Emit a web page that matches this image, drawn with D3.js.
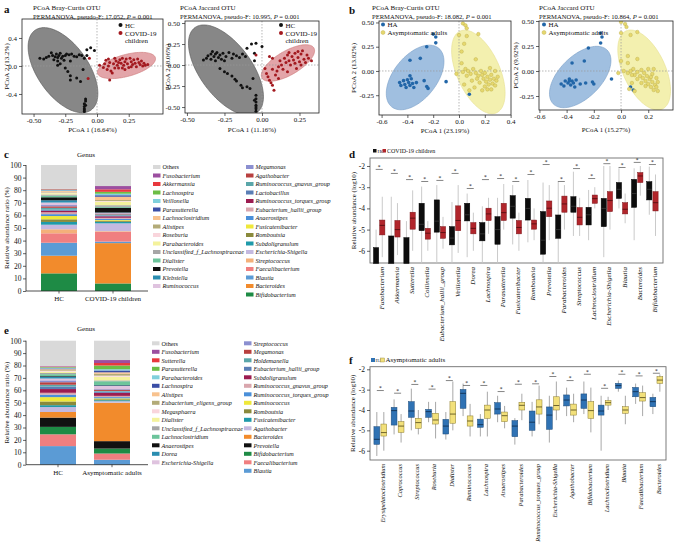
<!DOCTYPE html>
<html><head><meta charset="utf-8">
<script src="https://cdn.jsdelivr.net/npm/d3@7"></script>
<style>
body{margin:0;background:#fff;}
svg{display:block;font-family:"Liberation Serif","Times New Roman",serif;}
</style></head><body>
<svg id="chart" width="676" height="546"></svg>
<script>
// ---------------- DATA ----------------
// Panel a: PCoA coordinates (PCoA1, PCoA2)
const aBrayHC = [[-0.45,0.11],[-0.42,0.1],[-0.40,0.12],[-0.38,0.14],[-0.36,0.19],[-0.35,0.15],[-0.34,0.09],[-0.33,0.13],[-0.32,0.17],[-0.31,0.07],[-0.31,0.12],[-0.30,0.15],[-0.29,0.18],[-0.28,0.11],[-0.27,0.14],[-0.26,0.08],[-0.25,0.15],[-0.24,0.17],[-0.22,0.16],[-0.21,0.07],[-0.20,0.17],[-0.18,0.14],[-0.16,0.13],[-0.14,0.16],[-0.12,0.15],[-0.10,0.11],[-0.08,0.15],[-0.08,0.23],[-0.05,0.26],[-0.02,0.22],[-0.31,0.01],[-0.29,0.03],[-0.25,-0.03],[-0.23,-0.08],[-0.21,-0.14],[-0.21,-0.2],[-0.16,-0.17],[-0.13,-0.22],[-0.11,-0.05],[-0.09,-0.47],[-0.09,-0.5],[-0.1,-0.54],[-0.1,-0.58],[-0.1,-0.61],[-0.1,-0.63],[-0.09,-0.56],[-0.1,-0.65]];
const aBrayCOV = [[0.02,0.01],[0.05,-0.02],[0.06,0.03],[0.07,0.08],[0.08,-0.05],[0.09,0.0],[0.1,0.05],[0.11,-0.07],[0.12,-0.1],[0.13,0.03],[0.14,-0.03],[0.15,0.07],[0.16,0.01],[0.17,-0.03],[0.18,0.09],[0.19,0.04],[0.2,-0.03],[0.21,0.01],[0.22,0.06],[0.23,0.1],[0.24,0.03],[0.25,-0.02],[0.26,0.11],[0.27,0.06],[0.28,0.02],[0.29,0.09],[0.3,0.04],[0.31,-0.01],[0.32,0.1],[0.33,0.05],[0.34,0.02],[0.35,0.07],[0.36,0.0],[0.37,0.04],[0.38,0.01],[0.4,0.02],[0.2,0.11],[0.14,0.11],[0.09,0.1],[0.22,-0.05],[0.27,-0.01],[0.17,0.05],[-0.06,0.11],[-0.07,-0.18],[0.1,-0.2]];
const aJacHC = [[-0.39,0.06],[-0.37,0.08],[-0.36,0.11],[-0.34,0.13],[-0.34,0.07],[-0.33,0.16],[-0.32,0.1],[-0.31,0.13],[-0.31,0.05],[-0.3,0.15],[-0.29,0.09],[-0.28,0.12],[-0.27,0.07],[-0.26,0.14],[-0.25,0.05],[-0.24,0.1],[-0.22,0.15],[-0.2,0.08],[-0.19,0.13],[-0.17,0.11],[-0.15,0.09],[-0.13,0.13],[-0.11,0.1],[-0.1,0.2],[-0.07,0.25],[-0.04,0.26],[0.0,0.22],[-0.05,0.14],[-0.05,0.05],[-0.28,-0.04],[-0.25,-0.08],[-0.23,-0.1],[-0.2,-0.13],[-0.18,-0.17],[-0.17,-0.19],[-0.14,-0.24],[-0.13,-0.27],[-0.1,-0.26],[-0.08,-0.28],[-0.06,-0.16],[-0.04,-0.36],[-0.04,-0.4],[-0.04,-0.44],[-0.04,-0.48],[-0.04,-0.5],[-0.04,-0.52],[-0.04,-0.55],[-0.05,-0.42]];
const aJacCOV = [[0.02,-0.04],[0.03,-0.1],[0.04,-0.14],[0.05,-0.18],[0.06,-0.21],[0.07,-0.24],[0.08,-0.3],[0.09,-0.12],[0.1,-0.07],[0.11,-0.02],[0.11,-0.16],[0.12,0.05],[0.13,0.0],[0.14,-0.05],[0.15,0.08],[0.16,0.03],[0.17,-0.08],[0.17,0.12],[0.18,0.05],[0.19,0.0],[0.2,0.1],[0.21,0.06],[0.22,0.14],[0.22,0.02],[0.23,-0.04],[0.24,0.09],[0.25,0.04],[0.26,0.13],[0.26,0.0],[0.27,0.17],[0.28,0.07],[0.29,0.03],[0.3,0.12],[0.31,0.08],[0.33,0.05],[0.24,0.16],[0.18,0.15],[0.07,-0.05],[0.05,0.1],[-0.04,0.12],[0.07,0.08]];
// Panel b
const bBrayHA = [[-0.2,0.38],[-0.18,0.35],[-0.18,0.29],[-0.25,0.25],[-0.38,0.11],[-0.3,0.13],[-0.1,-0.11],[0.08,-0.24],[-0.46,-0.12],[-0.45,-0.15],[-0.43,-0.1],[-0.42,-0.14],[-0.41,-0.17],[-0.4,-0.09],[-0.39,-0.12],[-0.38,-0.05],[-0.38,-0.15],[-0.37,-0.08],[-0.36,-0.13],[-0.35,-0.17],[-0.33,-0.12],[-0.27,-0.1],[-0.24,-0.18],[-0.25,-0.16]];
const bBrayAS = [[0.03,0.49],[0.05,0.47],[0.06,0.44],[0.0,0.37],[0.06,0.36],[0.15,0.38],[0.04,0.28],[0.02,0.2],[0.13,0.12],[0.02,0.08],[0.05,0.02],[-0.02,-0.03],[0.03,-0.01],[0.07,0.0],[0.09,-0.03],[0.11,0.02],[0.13,-0.02],[0.15,-0.05],[0.17,0.0],[0.18,-0.04],[0.19,-0.08],[0.2,-0.02],[0.21,-0.11],[0.22,-0.06],[0.23,-0.14],[0.24,-0.09],[0.25,-0.04],[0.26,-0.13],[0.27,-0.08],[0.28,-0.15],[0.29,-0.1],[0.3,-0.06],[0.22,-0.19],[0.2,-0.16],[0.16,-0.12],[0.14,-0.08],[0.1,-0.1],[0.06,-0.05],[0.04,-0.14],[0.08,-0.2],[0.12,-0.17],[0.18,-0.2],[0.25,-0.19],[0.24,0.03],[0.28,0.0]];
const bJacHA = [[-0.15,0.38],[-0.14,0.34],[-0.15,0.28],[-0.24,0.23],[-0.27,0.1],[-0.36,0.08],[-0.07,-0.08],[0.09,-0.19],[0.07,-0.16],[-0.44,-0.13],[-0.42,-0.15],[-0.41,-0.1],[-0.39,-0.12],[-0.38,-0.08],[-0.37,-0.14],[-0.36,-0.1],[-0.35,-0.12],[-0.34,-0.16],[-0.33,-0.09],[-0.3,-0.13],[-0.26,-0.12],[-0.2,-0.13],[-0.21,-0.11],[-0.38,-0.1]];
const bJacAS = [[0.0,0.49],[0.03,0.47],[0.04,0.44],[0.0,0.38],[0.07,0.36],[0.12,0.39],[0.0,0.1],[0.05,0.08],[0.12,0.12],[-0.02,-0.02],[0.02,0.0],[0.05,-0.02],[0.07,0.0],[0.09,0.02],[0.1,-0.04],[0.12,-0.01],[0.14,-0.05],[0.15,0.01],[0.16,-0.07],[0.17,-0.02],[0.18,-0.1],[0.19,-0.05],[0.2,0.02],[0.2,-0.13],[0.21,-0.08],[0.22,-0.16],[0.23,-0.11],[0.23,-0.03],[0.24,-0.19],[0.25,-0.14],[0.26,-0.07],[0.26,-0.16],[0.27,-0.11],[0.22,-0.06],[0.18,-0.15],[0.15,-0.12],[0.12,-0.08],[0.08,-0.12],[0.06,-0.18],[0.1,-0.2],[0.08,-0.04],[0.05,0.15],[0.24,0.02],[0.27,-0.2]];

// Panel c: genus composition (%), legend order
const cGenera = ["Others","Fusobacterium","Akkermansia","Lachnospira","Veillonella","Parasutterella","Lachnoclostridium","Alistipes","Roseburia","Parabacteroides","Unclassified_f_Lachnospiraceae","Dialister","Prevotella","Klebsiella","Ruminococcus",
 "Megamonas","Agathobacter","Ruminococcus_gnavus_group","Lactobacillus","Ruminococcus_torques_group","Eubacterium_hallii_group","Anaerostipes","Fusicatenibacter","Romboutsia","Subdoligranulum","Escherichia-Shigella","Streptococcus","Faecalibacterium","Blautia","Bacteroides","Bifidobacterium"];
const cGroups = ["HC","COVID-19 children"];
const cHC =  [18.9,0.3,0.3,0.3,0.4,0.4,0.6,0.6,0.6,1.0,1.0,1.2,2.4,1.8,2.0, 1.0,1.2,1.5,0.8,1.2,1.5,1.5,2.6,2.1,2.2,3.6,3.2,7.5,10.3,14.0,14.0];
const cCOV = [16.7,2.6,2.0,1.5,1.2,1.2,2.6,0.8,0.5,2.8,1.3,0.7,3.8,0.3,0.3, 0.3,0.6,0.8,0.7,1.2,0.8,1.0,0.6,0.8,1.2,6.2,0.5,7.8,1.2,32.0,6.0];
// Panel e
const eGenera = ["Others","Fusobacterium","Sutterella","Parasutterella","Parabacteroides","Lachnospira","Alistipes","Eubacterium_eligens_group","Megasphaera","Dialister","Unclassified_f_Lachnospiraceae","Lachnoclostridium","Anaerostipes","Dorea","Escherichia-Shigella",
 "Streptococcus","Megamonas","Holdemanella","Eubacterium_hallii_group","Subdoligranulum","Ruminococcus_gnavus_group","Ruminococcus_torques_group","Ruminococcus","Romboutsia","Fusicatenibacter","Agathobacter","Bacteroides","Prevotella","Bifidobacterium","Faecalibacterium","Blautia"];
const eGroups = ["HC","Asymptomatic adults"];
const eHC = [20.5,0.4,0.4,0.5,0.6,0.6,0.8,0.6,0.6,1.0,1.0,1.5,0.5,1.5,1.5, 1.5,2.0,1.5,2.0,3.0,1.5,2.0,3.5,3.0,1.5,4.0,4.5,7.5,6.0,9.5,15.0];
const eAS = [15.6,2.4,2.0,3.0,1.0,1.5,1.2,1.5,0.8,3.0,0.7,3.0,0.3,0.5,2.5, 0.5,1.0,0.5,1.0,2.5,1.0,1.0,0.7,0.8,0.8,1.2,31.0,6.0,4.0,5.0,4.0];

// Panel d: boxplots [min, q1, median, q3, max] of log10 relative abundance
const dGenera = ["Fusobacterium","Akkermansia","Sutterella","Collinsella","Eubacterium_hallii_group","Veillonella","Dorea","Lachnospira","Parasutterella","Fusicatenibacter","Romboutsia","Prevotella","Parabacteroides","Streptococcus","Lachnoclostridium","Escherichia-Shigella","Blautia","Bacteroides","Bifidobacterium"];
const dHC = [[-6.6,-6.6,-6.6,-5.85,-5.0],[-6.6,-6.6,-6.6,-5.3,-3.45],[-6.6,-6.6,-6.6,-5.38,-4.6],[-6.6,-5.05,-4.75,-3.76,-2.97],[-6.6,-5.12,-4.6,-3.6,-2.9],[-6.6,-5.72,-5.4,-4.86,-3.7],[-6.3,-4.59,-4.3,-3.76,-3.3],[-6.6,-5.53,-5.2,-4.67,-3.9],[-6.6,-5.69,-5.0,-4.39,-3.5],[-5.7,-4.46,-3.9,-3.4,-2.9],[-5.6,-4.55,-4.0,-3.53,-2.66],[-6.6,-6.16,-5.5,-4.15,-2.78],[-6.6,-5.41,-5.0,-4.31,-2.75],[-5.3,-4.18,-3.9,-3.45,-2.27],[-5.5,-4.78,-4.3,-3.95,-3.13],[-6.3,-4.86,-4.0,-3.53,-2.0],[-4.0,-3.53,-3.1,-2.78,-2.11],[-5.5,-3.95,-3.3,-2.63,-2.11],[-4.3,-3.6,-3.1,-2.74,-2.03]];
const dCOV = [[-6.3,-5.25,-4.8,-4.55,-3.45],[-6.2,-5.35,-5.0,-4.57,-3.75],[-6.0,-4.98,-4.46,-4.18,-3.15],[-6.0,-5.45,-5.17,-4.94,-4.6],[-5.9,-5.41,-5.14,-4.86,-4.4],[-6.1,-5.05,-4.57,-3.88,-2.9],[-6.0,-5.2,-4.94,-4.67,-4.2],[-5.2,-4.57,-4.26,-3.99,-3.5],[-5.0,-4.57,-4.2,-3.76,-2.85],[-6.0,-5.2,-4.9,-4.57,-4.2],[-5.5,-4.98,-4.73,-4.55,-4.0],[-5.5,-4.39,-3.99,-3.65,-2.9],[-5.0,-4.18,-3.79,-3.42,-2.9],[-5.3,-4.78,-4.42,-3.96,-3.5],[-4.0,-3.76,-3.54,-3.37,-3.0],[-5.0,-4.15,-3.63,-3.21,-2.0],[-4.7,-4.26,-4.04,-3.73,-3.3],[-3.4,-2.78,-2.47,-2.31,-2.0],[-5.3,-4.12,-3.73,-3.21,-2.4]];
const dSig = [-2.09,-2.28,-2.57,-2.66,-2.61,-2.28,-2.99,-2.57,-2.52,-2.66,-2.33,-1.86,-2.66,-2.05,-2.52,-1.82,-2.0,-1.76,-1.86];

// Panel f
const fGenera = ["Erysipelatoclostridium","Coprococcus","Streptococcus","Roseburia","Dialister","Ruminococcus","Lachnospira","Anaerostipes","Parabacteroides","Ruminococcus_torques_group","Escherichia-Shigella","Agathobacter","Bifidobacterium","Lachnoclostridium","Blautia","Faecalibacterium","Bacteroides"];
const fHA = [[-6.26,-5.69,-5.44,-4.82,-4.1],[-5.2,-4.74,-4.03,-3.87,-3.48],[-5.0,-4.36,-4.05,-3.59,-2.95],[-4.6,-4.36,-4.08,-3.97,-3.6],[-5.45,-5.18,-4.79,-4.46,-4.1],[-4.3,-3.92,-3.18,-2.99,-2.7],[-5.3,-4.85,-4.72,-4.45,-4.2],[-4.6,-4.2,-3.95,-3.64,-3.3],[-5.7,-5.31,-4.79,-4.52,-4.4],[-5.3,-5.0,-4.6,-4.05,-3.6],[-5.6,-4.95,-4.25,-3.85,-3.3],[-4.3,-3.8,-3.51,-3.26,-2.9],[-4.2,-3.92,-3.51,-3.21,-2.6],[-6.0,-4.25,-4.05,-3.76,-3.3],[-3.1,-2.94,-2.8,-2.69,-2.55],[-3.7,-3.35,-3.1,-2.89,-2.7],[-4.2,-3.84,-3.59,-3.38,-3.2]];
const fAS = [[-6.0,-5.28,-5.11,-4.69,-4.1],[-5.6,-5.1,-4.79,-4.57,-4.2],[-5.2,-4.9,-4.62,-4.41,-4.0],[-5.4,-4.69,-4.49,-4.16,-3.6],[-5.0,-4.65,-4.2,-3.59,-2.6],[-5.3,-4.79,-4.54,-4.29,-3.7],[-5.3,-4.41,-4.0,-3.76,-3.1],[-4.9,-4.57,-4.28,-4.1,-3.8],[-4.5,-4.0,-3.77,-3.62,-3.2],[-4.7,-4.2,-3.85,-3.5,-2.8],[-4.5,-4.0,-3.78,-3.35,-2.6],[-4.6,-4.25,-4.0,-3.71,-3.2],[-5.1,-4.41,-4.03,-3.59,-2.9],[-4.0,-3.76,-3.64,-3.54,-3.35],[-4.7,-4.16,-4.0,-3.84,-3.3],[-4.3,-3.56,-3.39,-3.15,-2.8],[-3.1,-2.69,-2.53,-2.36,-2.25]];
const fSig = [-2.97,-3.1,-2.67,-2.9,-2.48,-2.72,-2.72,-3.02,-2.66,-2.64,-2.28,-2.48,-2.17,-2.86,-2.17,-2.25,-2.12];

// ---------------- STYLES ----------------
const pal1 = ['#d9d9d9','#9c4fa0','#e8383d','#6cbd45','#80d0dc','#3b4ea6','#f8c28e','#b3ab78','#f9d5dc','#f4f29c','#a6a6a6','#6cc49b','#111111','#2a8db0','#dfc3df'];
const pal2c = ['#8b8fd0','#b8403f','#5aa6a9','#5a7eb5','#9c1c50','#d9a6ad','#4a8fd9','#efe83a','#8a8a3c','#1f9aaa','#c4b9e0','#f4b07a','#f07f80','#5b9bd5','#f28b2c','#1e8b45'];
const pal2e = ['#8b8fd0','#b8403f','#5aa6a9','#5a7eb5','#9c1c50','#d9a6ad','#4a8fd9','#efe83a','#8a8a3c','#1f9aaa','#c4b9e0','#f28b2c','#111111','#1e8b45','#f07f80','#5b9bd5'];

const svg = d3.select('#chart');
const defs = svg.append('defs');
const fmt = n => d => d.toFixed(n).replace('\u2212','-');

function txt(x,y,s,size,opts={}){
  const t = svg.append('text').attr('x',x).attr('y',y).attr('font-size',size).attr('fill',opts.fill||'#111').text(s);
  if(opts.anchor) t.attr('text-anchor',opts.anchor);
  if(opts.weight) t.attr('font-weight',opts.weight);
  if(opts.italic) t.attr('font-style','italic');
  if(opts.rot) t.attr('transform',`rotate(${opts.rot},${x},${y})`);
  return t;
}

function styleAxis(g,size){
  g.select('.domain').remove();
  g.selectAll('.tick line').attr('stroke','#222').attr('stroke-width',0.7);
  g.selectAll('.tick text').attr('font-size',size).attr('fill','#111').attr('font-family','Liberation Serif');
}

// ---------------- PCoA ----------------
function pcoa(c){
  const x = d3.scaleLinear().domain(c.xd).range([c.x0,c.x1]);
  const y = d3.scaleLinear().domain(c.yd).range([c.y1,c.y0]);
  defs.append('clipPath').attr('id','clip'+c.id).append('rect')
    .attr('x',c.x0).attr('y',c.y0).attr('width',c.x1-c.x0).attr('height',c.y1-c.y0);
  const inner = svg.append('g').attr('clip-path',`url(#clip${c.id})`);
  c.groups.forEach(gr=>{
    const e = gr.ell;
    const pts = d3.range(0,96).map(i=>{const t=i/96*2*Math.PI;
      return [e.c[0]+e.u[0]*Math.cos(t)+e.v[0]*Math.sin(t), e.c[1]+e.u[1]*Math.cos(t)+e.v[1]*Math.sin(t)];});
    inner.append('path').attr('d',d3.line().x(d=>x(d[0])).y(d=>y(d[1])).curve(d3.curveCardinalClosed)(pts))
      .attr('fill',gr.fill).attr('fill-opacity',gr.op).attr('stroke',gr.estroke).attr('stroke-width',0.6);
  });
  inner.append('line').attr('x1',x(0)).attr('x2',x(0)).attr('y1',c.y0).attr('y2',c.y1)
    .attr('stroke','#9a9a9a').attr('stroke-width',0.7).attr('stroke-dasharray','1.5,1.5');
  inner.append('line').attr('x1',c.x0).attr('x2',c.x1).attr('y1',y(0)).attr('y2',y(0))
    .attr('stroke','#9a9a9a').attr('stroke-width',0.7).attr('stroke-dasharray','1.5,1.5');
  c.groups.forEach(gr=>{
    inner.append('g').selectAll('circle').data(gr.pts).join('circle')
      .attr('cx',d=>x(d[0])).attr('cy',d=>y(d[1])).attr('r',c.r)
      .attr('fill',gr.color).attr('stroke',gr.pstroke||'none').attr('stroke-width',0.4);
  });
  svg.append('rect').attr('x',c.x0).attr('y',c.y0).attr('width',c.x1-c.x0).attr('height',c.y1-c.y0)
    .attr('fill','none').attr('stroke','#222').attr('stroke-width',0.8);
  const gx = svg.append('g').attr('transform',`translate(0,${c.y1})`)
    .call(d3.axisBottom(x).tickValues(c.xt).tickSize(3).tickPadding(1.5).tickFormat(fmt(c.xf)));
  styleAxis(gx,7);
  const gy = svg.append('g').attr('transform',`translate(${c.x0},0)`)
    .call(d3.axisLeft(y).tickValues(c.yt).tickSize(3).tickPadding(2).tickFormat(fmt(c.yf)));
  styleAxis(gy,7);
  txt(c.tx,9.5,c.title,7);
  const p = svg.append('text').attr('x',c.tx).attr('y',18.5).attr('font-size',6.6).attr('fill','#111');
  p.append('tspan').text(`PERMANOVA, pseudo-F: ${c.F}, `);
  p.append('tspan').attr('font-style','italic').text('P');
  p.append('tspan').text(' = 0.001');
  txt((c.x0+c.x1)/2,Math.max(131.5,c.y1+18),c.xlab,6.8,{anchor:'middle'});
  txt(c.ylx,(c.y0+c.y1)/2,c.ylab,7,{anchor:'middle',rot:-90});
  c.legend.forEach((l,i)=>{
    svg.append('circle').attr('cx',c.lx).attr('cy',c.ly+i*8).attr('r',2).attr('fill',l.color).attr('stroke',l.stroke||'none').attr('stroke-width',0.4);
    txt(c.lx+4.5,c.ly+i*8+2.5,l.text,7);
    if(l.text2) txt(c.lx+4.5,c.ly+i*8+10,l.text2,7);
  });
}

const greyE = {fill:'#7a7a7a',op:0.9,estroke:'#555'};
const redE = {fill:'#dc8f93',op:0.8,estroke:'#c77'};
const blueE = {fill:'#8fb4da',op:0.85,estroke:'#7aa0c8'};
const yelE = {fill:'#f2eea6',op:0.9,estroke:'#e5df90'};

pcoa({id:'a1',x0:22,x1:163,y0:19,y1:114,xd:[-0.591,0.52],yd:[-0.686,0.671],xt:[-0.5,-0.25,0,0.25],yt:[-0.4,0,0.4],xf:2,yf:1,r:1.5,
  tx:33,title:'PCoA Bray-Curtis OTU',F:'17.052',xlab:'PCoA 1 (16.64%)',ylab:'PCoA 2 (13.2%)',ylx:9,
  groups:[Object.assign({pts:aBrayHC,color:'#111',ell:{c:[-0.268,-0.06],u:[0.22,-0.571],v:[-0.165,-0.209]}},greyE),
          Object.assign({pts:aBrayCOV,color:'#a3191f',ell:{c:[0.232,0.007],u:[0.228,0.111],v:[0.022,-0.151]}},redE)],
  lx:120.5,ly:25,legend:[{color:'#111',text:'HC'},{color:'#a3191f',text:'COVID-19',text2:'children'}]});
pcoa({id:'a2',x0:185,x1:319,y0:21,y1:113,xd:[-0.513,0.38],yd:[-0.571,0.524],xt:[-0.5,-0.25,0,0.25],yt:[-0.5,-0.25,0,0.25,0.5],xf:2,yf:2,r:1.5,
  tx:180,title:'PCoA Jaccard OTU',F:'10.995',xlab:'PCoA 1 (11.16%)',ylab:'PCoA 2 (8.06%)',ylx:170,
  groups:[Object.assign({pts:aJacHC,color:'#111',ell:{c:[-0.24,-0.06],u:[0.207,-0.506],v:[-0.14,-0.182]}},greyE),
          Object.assign({pts:aJacCOV,color:'#a3191f',ell:{c:[0.173,0.024],u:[0.173,0.179],v:[0.04,-0.124]}},redE)],
  lx:281,ly:25,legend:[{color:'#111',text:'HC'},{color:'#a3191f',text:'COVID-19',text2:'children'}]});
pcoa({id:'b1',x0:379,x1:511,y0:21,y1:115,xd:[-0.62,0.403],yd:[-0.454,0.515],xt:[-0.6,-0.4,-0.2,0,0.2,0.4],yt:[-0.25,0,0.25,0.5],xf:1,yf:2,r:1.8,
  tx:372,title:'PCoA Bray-Curtis OTU',F:'18.082',xlab:'PCoA 1 (23.19%)',ylab:'PCoA 2 (13.82%)',ylx:356,
  groups:[Object.assign({pts:bBrayHA,color:'#2266a8',ell:{c:[-0.34,-0.067],u:[0.184,0.3],v:[0.127,-0.145]}},blueE),
          Object.assign({pts:bBrayAS,color:'#e6d86e',pstroke:'#b9aa45',ell:{c:[0.15,-0.01],u:[0.143,-0.42],v:[-0.15,-0.096]}},yelE)],
  lx:383,ly:24.5,legend:[{color:'#2266a8',text:'HA'},{color:'#e6d86e',stroke:'#b9aa45',text:'Asymptomatic adults'}]});
pcoa({id:'b2',x0:539,x1:673,y0:21,y1:110,xd:[-0.603,0.382],yd:[-0.39,0.5],xt:[-0.6,-0.4,-0.2,0,0.2],yt:[-0.25,0,0.25,0.5],xf:1,yf:2,r:1.8,
  tx:539,title:'PCoA Jaccard OTU',F:'10.864',xlab:'PCoA 1 (15.27%)',ylab:'PCoA 2 (9.92%)',ylx:518,
  groups:[Object.assign({pts:bJacHA,color:'#2266a8',ell:{c:[-0.30,-0.06],u:[0.198,0.269],v:[0.109,-0.148]}},blueE),
          Object.assign({pts:bJacAS,color:'#e6d86e',pstroke:'#b9aa45',ell:{c:[0.17,0.01],u:[0.134,-0.39],v:[-0.14,-0.089]}},yelE)],
  lx:544,ly:24.5,legend:[{color:'#2266a8',text:'HA'},{color:'#e6d86e',stroke:'#b9aa45',text:'Asymptomatic adults'}]});

// ---------------- Stacked bars ----------------
function stacked(c){
  const y = d3.scaleLinear().domain([0,100]).range([c.yb,c.yt]);
  const x = d3.scaleBand().domain(c.groups).range([c.bx0,c.bx1]).paddingInner(1/3).paddingOuter(1/6);
  const color = d3.scaleOrdinal().domain(c.genera).range(c.colors);
  const rows = c.groups.map((g,gi)=>{const o={group:g}; c.genera.forEach((k,ki)=>o[k]=c.values[gi][ki]); return o;});
  const series = d3.stack().keys(c.genera.slice().reverse())(rows);
  svg.append('g').selectAll('g').data(series).join('g').attr('fill',s=>color(s.key))
    .selectAll('rect').data(s=>s).join('rect')
    .attr('x',d=>x(d.data.group)).attr('width',x.bandwidth())
    .attr('y',d=>y(d[1])).attr('height',d=>Math.max(0,y(d[0])-y(d[1])));
  const gy = svg.append('g').attr('transform',`translate(${c.ax},0)`)
    .call(d3.axisLeft(y).tickValues(d3.range(0,101,10)).tickSize(3).tickPadding(1.5));
  styleAxis(gy,7.5);
  svg.append('line').attr('x1',c.ax).attr('x2',c.ax).attr('y1',c.yt).attr('y2',c.yb).attr('stroke','#222').attr('stroke-width',0.8);
  svg.append('line').attr('x1',c.ax).attr('x2',c.axEnd).attr('y1',c.yb).attr('y2',c.yb).attr('stroke','#222').attr('stroke-width',0.8);
  c.groups.forEach(g=>{
    svg.append('line').attr('x1',x(g)+x.bandwidth()/2).attr('x2',x(g)+x.bandwidth()/2).attr('y1',c.yb).attr('y2',c.yb+2.5).attr('stroke','#222').attr('stroke-width',0.7);
    txt(x(g)+x.bandwidth()/2,c.yb+10,g,7,{anchor:'middle'});
  });
  txt(9,(c.yt+c.yb)/2,'Relative abundance ratio (%)',7,{anchor:'middle',rot:-90});
  txt(c.gx,c.gy,'Genus',7,{anchor:'middle'});
  c.genera.forEach((k,i)=>{
    const col = i<15?0:1, row = i<15?i:i-15;
    const yy = c.ly + row*8.5;
    const sx = col===0?c.lx1:c.lx2;
    svg.append('rect').attr('x',sx).attr('y',yy-2).attr('width',7.5).attr('height',4).attr('fill',color(k));
    txt(sx+9.5,yy+2.4,k,6.2,{italic:k!=='Others'});
  });
}
stacked({genera:cGenera,groups:cGroups,values:[cHC,cCOV],colors:pal1.concat(pal2c),yb:291,yt:165,bx0:32,bx1:140,ax:26,axEnd:148,
  gx:86,gy:157,ly:167,lx1:153,lx2:246});
stacked({genera:eGenera,groups:eGroups,values:[eHC,eAS],colors:pal1.concat(pal2e),yb:464.7,yt:340.7,bx0:31,bx1:139,ax:26,axEnd:148,
  gx:86,gy:331,ly:343.3,lx1:152,lx2:244});

// ---------------- Box plots ----------------
function boxes(c){
  const y = d3.scaleLinear().domain(c.yd).range([c.y1,c.y0]);
  const x = d3.scaleBand().domain(c.genera).range([c.bx0,c.bx1]);
  const cx = g => x(g)+x.bandwidth()/2;
  svg.append('rect').attr('x',c.x0).attr('y',c.y0).attr('width',c.x1-c.x0).attr('height',c.y1-c.y0)
    .attr('fill','none').attr('stroke','#6e6e6e').attr('stroke-width',0.9);
  const gy = svg.append('g').attr('transform',`translate(${c.x0},0)`)
    .call(d3.axisLeft(y).tickValues([-6,-5,-4,-3,-2]).tickSize(3).tickPadding(2).tickFormat(d=>String(d)));
  styleAxis(gy,7.5);
  c.series.forEach(s=>{
    const g = svg.append('g');
    g.selectAll('line.w').data(c.genera).join('line')
      .attr('x1',(d)=>cx(d)+s.off).attr('x2',d=>cx(d)+s.off)
      .attr('y1',(d,i)=>y(s.data[i][0])).attr('y2',(d,i)=>y(s.data[i][4]))
      .attr('stroke',c.wcol).attr('stroke-width',0.9);
  });
  c.series.forEach(s=>{
    const g = svg.append('g');
    g.selectAll('rect').data(c.genera).join('rect')
      .attr('x',d=>cx(d)+s.off-c.bw/2).attr('width',c.bw)
      .attr('y',(d,i)=>y(s.data[i][3])).attr('height',(d,i)=>Math.max(0.8,y(s.data[i][1])-y(s.data[i][3])))
      .attr('fill',s.fill).attr('stroke',s.stroke).attr('stroke-width',0.5);
    g.selectAll('line').data(c.genera).join('line')
      .attr('x1',d=>cx(d)+s.off-c.bw/2).attr('x2',d=>cx(d)+s.off+c.bw/2)
      .attr('y1',(d,i)=>y(s.data[i][2])).attr('y2',(d,i)=>y(s.data[i][2]))
      .attr('stroke',s.med).attr('stroke-width',0.8);
  });
  c.genera.forEach((g,i)=>{
    svg.append('line').attr('x1',cx(g)-3.5).attr('x2',cx(g)+3.5).attr('y1',y(c.sig[i])+1.5).attr('y2',y(c.sig[i])+1.5)
      .attr('stroke','#333').attr('stroke-width',0.6);
    txt(cx(g),y(c.sig[i])+1.2,'*',5.5,{anchor:'middle'});
    svg.append('text').attr('transform',`translate(${cx(g)+2},${c.y1+4}) rotate(-90)`)
      .attr('text-anchor','end').attr('dy','0.35em').attr('font-size',c.lfs).attr('font-style','italic').attr('fill','#111').text(g);
  });
  txt(c.ylx,(c.y0+c.y1)/2,'Relative abundance (log10)',7,{anchor:'middle',rot:-90});
}
boxes({genera:dGenera,x0:370,x1:663,y0:158,y1:263,yd:[-6.575,-1.623],bx0:371.6,bx1:660,bw:5.2,wcol:'#c4c4c4',ylx:356,sig:dSig,lfs:7,
  series:[{data:dHC,off:-3.1,fill:'#0d0d0d',stroke:'#000',med:'#3a3a3a'},{data:dCOV,off:3.1,fill:'#b1252b',stroke:'#7a1418',med:'#4a0a0c'}]});
boxes({genera:fGenera,x0:370,x1:666,y0:366.7,y1:460,yd:[-6.457,-1.872],bx0:371.7,bx1:665,bw:5.8,wcol:'#9e9e9e',ylx:355,sig:fSig,lfs:6.4,
  series:[{data:fHA,off:-3.5,fill:'#2f72b4',stroke:'#1d4a78',med:'#0e2a48'},{data:fAS,off:3.5,fill:'#f2e07a',stroke:'#8c7c2e',med:'#4d4418'}]});

// legends d, f
svg.append('rect').attr('x',373).attr('y',149).attr('width',3.5).attr('height',3.5).attr('fill','#111');
txt(377.5,152.6,'HC',5,{});
svg.append('rect').attr('x',382.5).attr('y',149).attr('width',3.5).attr('height',3.5).attr('fill','#b1252b');
txt(387,152.6,'COVID-19 children',6,{});
svg.append('rect').attr('x',371).attr('y',358).attr('width',4).attr('height',4).attr('fill','#2f72b4');
txt(375.5,361.8,'HA',4.5,{});
svg.append('rect').attr('x',380.5).attr('y',358).attr('width',4).attr('height',4).attr('fill','#f2e07a').attr('stroke','#8c7c2e').attr('stroke-width',0.4);
txt(385.5,362,'Asymptomatic adults',7,{});

// panel letters
txt(4,13,'a',11,{weight:'bold'});
txt(349,14,'b',11,{weight:'bold'});
txt(4,158,'c',11,{weight:'bold'});
txt(349,158,'d',11,{weight:'bold'});
txt(4,334,'e',11,{weight:'bold'});
txt(349,364,'f',11,{weight:'bold'});
</script>
</body></html>
